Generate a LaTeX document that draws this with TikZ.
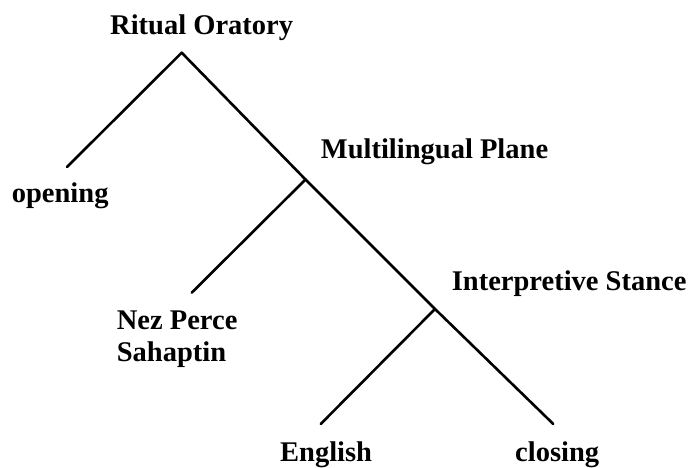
\documentclass[tikz,border=0pt]{standalone}
\usepackage{fontspec}
\setmainfont{Liberation Serif}
\begin{document}
\begin{tikzpicture}[x=1pt,y=-1pt,
  lbl/.style={anchor=base west,inner sep=0pt,font=\fontsize{28.5}{32}\selectfont\bfseries,align=left},
  branch/.style={line width=2.6pt,line cap=round,line join=round}]
\useasboundingbox (0,0) rectangle (688,468);
% tree junctions and leaf ends
\coordinate (top) at (181.7,52.7);
\coordinate (open) at (67,167);
\coordinate (mp) at (305.5,179.5);
\coordinate (nez) at (191.7,292.7);
\coordinate (is) at (435,309);
\coordinate (eng) at (320.7,424);
\coordinate (clo) at (553.3,424);
% labels (a two-line label sits on its last baseline)
\node[lbl] (ro) at (110,35) {Ritual Oratory};
\node[lbl] (op) at (11.7,202.7) {opening};
\node[lbl] (ml) at (320.7,158.3) {Multilingual Plane};
\node[lbl] (np) at (116.7,361) {Nez Perce\\Sahaptin};
\node[lbl] (it) at (451.7,290) {Interpretive Stance};
\node[lbl] (en) at (280,461.7) {English};
\node[lbl] (cl) at (515,461.7) {closing};
% branches
\draw[branch] (open) -- (top) -- (mp) -- (is) -- (clo);
\draw[branch] (mp) -- (nez);
\draw[branch] (is) -- (eng);
\end{tikzpicture}
\end{document}
